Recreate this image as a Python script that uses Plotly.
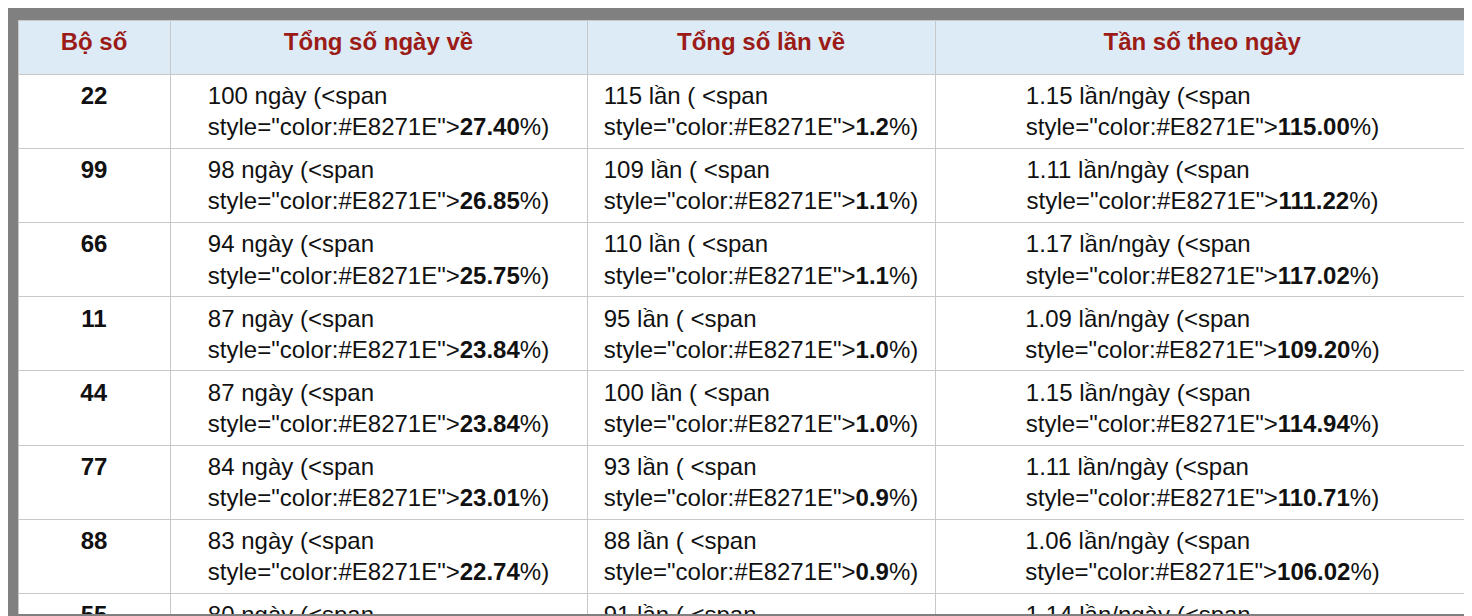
import plotly.graph_objects as go

bo_so = ["22", "99", "66", "11", "44", "77", "88", "55", "00", "33"]
ngay = [100, 98, 94, 87, 87, 84, 83, 80, 76, 71]
ngay_pct = ["27.40", "26.85", "25.75", "23.84", "23.84", "23.01", "22.74", "21.92", "20.82", "19.45"]
lan = [115, 109, 110, 95, 100, 93, 88, 91, 91, 81]
lan_pct = ["1.2", "1.1", "1.1", "1.0", "1.0", "0.9", "0.9", "0.9", "0.9", "0.8"]
tan_so = ["1.15", "1.11", "1.17", "1.09", "1.15", "1.11", "1.06", "1.14", "1.20", "1.14"]
tan_pct = ["115.00", "111.22", "117.02", "109.20", "114.94", "110.71", "106.02", "113.75", "119.74", "114.08"]
headers = ["Bộ số", "Tổng số ngày về", "Tổng số lần về", "Tần số theo ngày"]

RED = "#E8271E"
def red(s):
    return f'<span style="color:{RED}"><b>{s}</b></span>'

col1 = [f"<b>{b}</b>" for b in bo_so]
col2 = [f"{n} ngày ({red(p)}%)" for n, p in zip(ngay, ngay_pct)]
col3 = [f"{n} lần ( {red(p)}%)" for n, p in zip(lan, lan_pct)]
col4 = [f"{t} lần/ngày ({red(p)}%)" for t, p in zip(tan_so, tan_pct)]

fig = go.Figure(go.Table(
    columnwidth=[152, 417, 348, 535],
    header=dict(values=[f"<b>{h}</b>" for h in headers],
                fill_color="#DDEBF7", line_color="#C8C8C8",
                font=dict(family="Liberation Sans, Arial", size=24, color="#9B1C17"),
                align="center", height=54),
    cells=dict(values=[col1, col2, col3, col4],
               fill_color="white", line_color="#C8C8C8",
               font=dict(family="Liberation Sans, Arial", size=24, color="#111111"),
               align="center", height=54),
))
fig.update_layout(width=1472, height=616, margin=dict(l=10, r=10, t=12, b=10),
                  paper_bgcolor="#808080")
fig.write_html("out.html")
